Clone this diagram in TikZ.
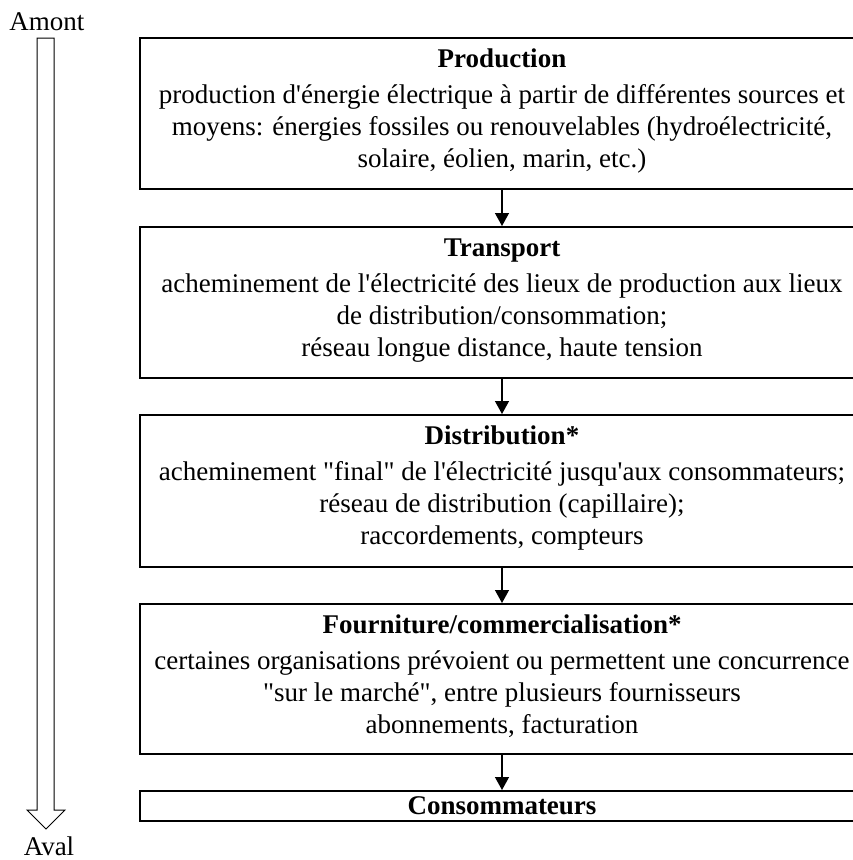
\documentclass[tikz,border=0pt]{standalone}
\usepackage{fontspec}
\setmainfont{Liberation Serif}[Ligatures=TeXOff]
\usetikzlibrary{arrows.meta}
\begin{document}
\begin{tikzpicture}[x=1pt,y=-1pt,
  box/.style={draw, line width=1.8pt, minimum width=760pt, inner sep=0pt, anchor=north},
  txt/.style={anchor=base, inner sep=0pt, font=\fontsize{27}{31.5}\selectfont},
  hdr/.style={txt, font=\fontsize{27}{31.5}\selectfont\bfseries},
  conn/.style={line width=1.3pt, -{Triangle[length=13pt,width=14pt]}}]
\useasboundingbox (0,0) rectangle (853,860);
\clip (0,0) rectangle (853,860);
% left hollow arrow
\draw[line width=1pt, line join=miter] (37,38) -- (37,810) -- (27,810) -- (46,829) -- (65,810) -- (54,810) -- (54,38) -- cycle;
\node[txt] (amont) at (47,30) {Amont};
\node[txt, text depth=0pt] (aval) at (49,855) {Aval};
% boxes (right side runs past the picture edge)
\node[box, minimum height=151pt] (prod) at (520,37) {};
\node[box, minimum height=151pt] (trans) at (520,226) {};
\node[box, minimum height=152pt] (dist) at (520,414) {};
\node[box, minimum height=150pt] (four) at (520,603) {};
\node[box, minimum height=30pt] (cons) at (520,790) {};
% production text
\node[hdr] (prodH) at (502,67.7) {Production};
\node[txt] (prod1) at (502,103.7) {production d'énergie électrique à partir de différentes sources et};
\node[txt] (prod2) at (502,135.5) {moyens: énergies fossiles ou renouvelables (hydroélectricité,};
\node[txt] (prod3) at (502,167) {solaire, éolien, marin, etc.)};
% transport text
\node[hdr] (transH) at (502,256.7) {Transport};
\node[txt] (trans1) at (502,292.7) {acheminement de l'électricité des lieux de production aux lieux};
\node[txt] (trans2) at (502,324.5) {de distribution/consommation;};
\node[txt] (trans3) at (502,356) {réseau longue distance, haute tension};
% distribution text
\node[hdr] (distH) at (502,444.7) {Distribution*};
\node[txt] (dist1) at (502,480.7) {acheminement "final" de l'électricité jusqu'aux consommateurs;};
\node[txt] (dist2) at (502,512.5) {réseau de distribution (capillaire);};
\node[txt] (dist3) at (502,544) {raccordements, compteurs};
% fourniture text
\node[hdr] (fourH) at (502,633.7) {Fourniture/commercialisation*};
\node[txt] (four1) at (502,669.7) {certaines organisations prévoient ou permettent une concurrence};
\node[txt] (four2) at (502,701.5) {"sur le marché", entre plusieurs fournisseurs};
\node[txt] (four3) at (502,733) {abonnements, facturation};
% consommateurs
\node[hdr] (consH) at (502,814) {Consommateurs};
% connectors
\draw[conn] (prod.south -| prodH) -- (trans.north -| prodH);
\draw[conn] (trans.south -| prodH) -- (dist.north -| prodH);
\draw[conn] (dist.south -| prodH) -- (four.north -| prodH);
\draw[conn] (four.south -| prodH) -- (cons.north -| prodH);
\end{tikzpicture}
\end{document}
